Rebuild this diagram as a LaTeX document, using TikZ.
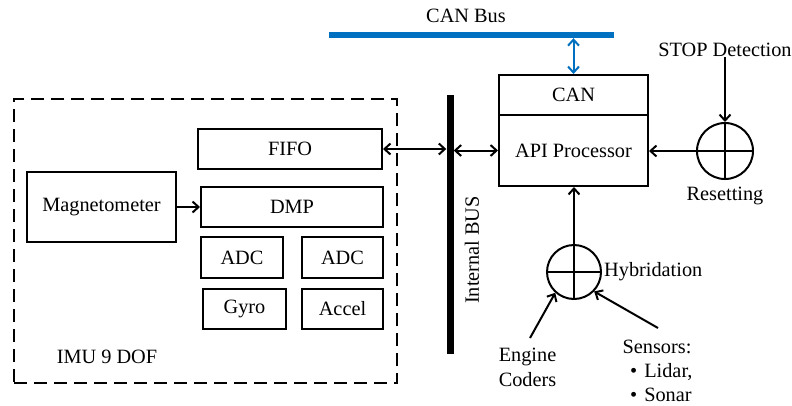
\documentclass[tikz,border=0pt]{standalone}
\usepackage{fontspec}
\setmainfont{Liberation Serif}
\usetikzlibrary{arrows.meta}
\definecolor{canblue}{RGB}{0,112,192}
\begin{document}
\begin{tikzpicture}[x=1pt,y=-1pt,
  font=\fontsize{20.3}{23}\selectfont,
  box/.style={draw, line width=2pt, rectangle, inner sep=0pt},
  dashbox/.style={draw, line width=2pt, dash pattern=on 13pt off 7pt, rectangle, inner sep=0pt},
  arr/.style={line width=2pt, -{Straight Barb[length=6pt,width=11pt]}},
  darr/.style={line width=2pt, {Straight Barb[length=6pt,width=11pt]}-{Straight Barb[length=6pt,width=11pt]}},
  sumc/.style={draw, line width=2pt, circle, inner sep=0pt,
    path picture={\draw[line width=2pt] (path picture bounding box.north) -- (path picture bounding box.south)
      (path picture bounding box.west) -- (path picture bounding box.east);}},
  lbl/.style={inner sep=0pt}
]
\useasboundingbox (0,0) rectangle (792,405);

% CAN bus
\node[lbl] (canbuslbl) at (466,16) {CAN Bus};
\node[rectangle, fill=canblue, inner sep=0pt, minimum width=285pt, minimum height=6pt] (canbus) at (471.5,35) {};

% IMU
\node[dashbox, minimum width=383pt, minimum height=284pt] (imu) at (205.5,241) {};
\node[lbl] (imulbl) at (107,357) {IMU 9 DOF};
\node[box, minimum width=184pt, minimum height=40pt] (fifo) at (290,149) {FIFO};
\node[box, minimum width=149pt, minimum height=70pt] (mag) at (101.5,207) {Magnetometer};
\node[box, minimum width=182pt, minimum height=40pt] (dmp) at (292,207) {DMP};
\node[box, minimum width=82pt, minimum height=41pt] (adc1) at (242,257.5) {ADC};
\node[box, minimum width=81pt, minimum height=41pt] (adc2) at (342.5,257.5) {ADC};
\node[box, minimum width=83pt, minimum height=40pt] (gyro) at (244.5,309) {Gyro};
\node[box, minimum width=81pt, minimum height=40pt] (accel) at (342.5,309) {Accel};

% internal bus
\node[rectangle, fill=black, inner sep=0pt, minimum width=7pt, minimum height=259pt] (bus) at (450,224.5) {};
\node[lbl, rotate=90] (buslbl) at (472,250) {Internal BUS};

% processor
\node[box, minimum width=149pt, minimum height=40pt] (can) at (573.5,95) {CAN};
\node[box, minimum width=149pt, minimum height=71pt] (api) at (573.5,150.5) {API Processor};

% resetting
\node[sumc, minimum size=56pt] (reset) at (725,151) {};
\node[lbl] (stop) at (725,50) {STOP Detection};
\node[lbl] (resetlbl) at (725,196) {Resetting};

% hybridation
\node[sumc, minimum size=54pt] (hyb) at (574,272) {};
\node[lbl, anchor=west] (hyblbl) at (604,272) {Hybridation};
\node[lbl] (eng1) at (527.5,357) {Engine};
\node[lbl] (eng2) at (527.5,380) {Coders};
\node[lbl] (sens) at (657,347) {Sensors:};
\node[lbl, anchor=west] (lidar) at (630,372) {\textbullet\hspace{7pt}Lidar,};
\node[lbl, anchor=west] (sonar) at (630,395) {\textbullet\hspace{7pt}Sonar};
\coordinate (engtip) at (530,338);
\coordinate (senstip) at (658,328);

% connectors
\draw[arr] (mag.east) -- (dmp.west);
\draw[darr] (fifo.east) -- (fifo.east -| bus.west);
\draw[darr] (api.west -| bus.east) -- (api.west);
\draw[darr, draw=canblue, line width=2pt] (canbus.south -| can.north) -- (can.north);
\draw[arr] (stop.south) -- (reset.north);
\draw[arr] (reset.west) -- (reset.west -| api.east);
\draw[arr] (hyb.north) -- (hyb.north |- api.south);
\draw[arr] (engtip) -- (hyb.228);
\draw[arr] (senstip) -- (hyb.316);
\end{tikzpicture}
\end{document}
